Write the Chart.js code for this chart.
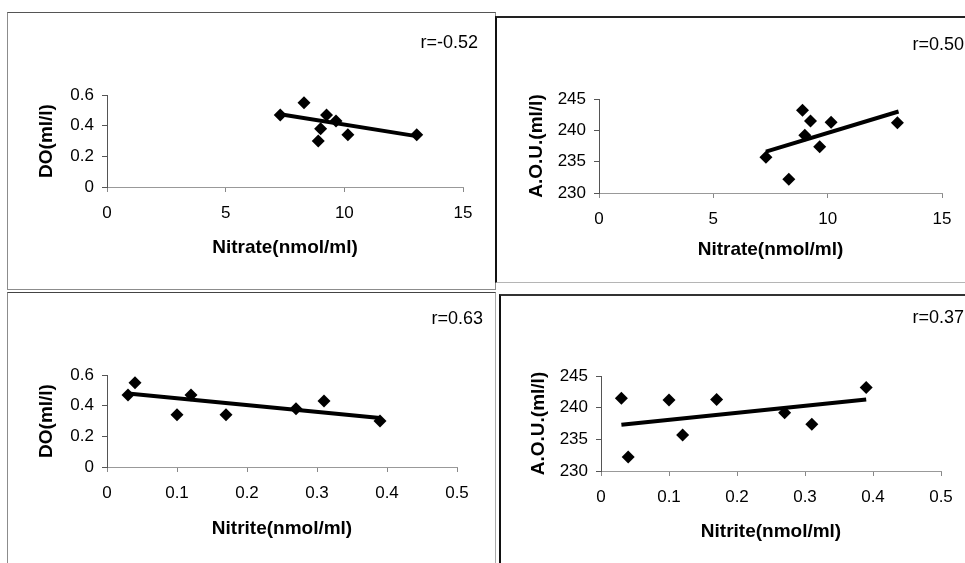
<!DOCTYPE html>
<html>
<head>
<meta charset="utf-8">
<script src="https://cdn.jsdelivr.net/npm/chart.js@4.4.0/dist/chart.umd.min.js"></script>
<style>
  body { margin: 0; background: #fff; }
  #page { position: relative; width: 965px; height: 563px; overflow: hidden; background: #fff; }
  .frame, canvas { position: absolute; }
</style>
</head>
<body>
<div id="page">
  <!-- scanned panel frames -->
  <div class="frame" style="left:7px;top:12px;width:487px;height:276px;border:1px solid #8c8c8c;border-top-color:#555;"></div>
  <div class="frame" style="left:495px;top:16px;width:480px;height:264px;border-left:2px solid #111;border-top:2px solid #222;border-bottom:1px solid #b5b5b5;"></div>
  <div class="frame" style="left:7px;top:292px;width:487px;height:290px;border:1px solid #8c8c8c;border-top-color:#444;border-right-color:#aaa;"></div>
  <div class="frame" style="left:499px;top:294px;width:480px;height:290px;border-left:2px solid #111;border-top:2px solid #333;"></div>

  <canvas id="nitrateDO"></canvas>
  <canvas id="nitrateAOU"></canvas>
  <canvas id="nitriteDO"></canvas>
  <canvas id="nitriteAOU"></canvas>
</div>
<script>
// same 8 stations in every panel
const nitrate = [7.3, 8.3, 8.9, 9.0, 9.25, 9.65, 10.15, 13.05];
const nitrite = [0.12, 0.04, 0.39, 0.27, 0.03, 0.31, 0.17, 0.10];
const dissolvedO2 = [0.47, 0.55, 0.30, 0.38, 0.47, 0.43, 0.34, 0.34];
const aou = [235.7, 232.2, 243.2, 239.2, 241.5, 237.4, 241.3, 241.2];

// trend line ends
const nitrateTrendX = [7.3, 13.1];
const nitriteTrendX = [0.03, 0.39];
const doNitrateTrend = [0.475, 0.33];
const aouNitrateTrend = [236.6, 243.0];
const doNitriteTrend = [0.48, 0.32];
const aouNitriteTrend = [237.3, 241.3];

// tick labels
const nitrateTicks = [0, 5, 10, 15];
const nitriteTicks = [0, 0.1, 0.2, 0.3, 0.4, 0.5];
const doTicks = [0, 0.2, 0.4, 0.6];
const aouTicks = [230, 235, 240, 245];

const rLabels = ['r=-0.52', 'r=0.50', 'r=0.63', 'r=0.37'];

const FONT = "'Liberation Sans', Arial, sans-serif";
Chart.defaults.font.family = FONT;
Chart.defaults.color = '#000';

// r= text in the top right corner of each panel
const cornerNote = {
    id: 'cornerNote',
    afterDraw(chart, args, opts) {
        const ctx = chart.ctx;
        ctx.save();
        ctx.font = '18px ' + FONT;
        ctx.fillStyle = '#000';
        ctx.textAlign = 'right';
        ctx.textBaseline = 'middle';
        ctx.fillText(opts.text, opts.x, opts.y);
        ctx.restore();
    }
};

function pairs(xs, ys) {
    return xs.map((x, i) => ({ x: x, y: ys[i] }));
}

// box = canvas rect on page, plot = wanted chart area on page
function makePanel(id, box, plot, xVals, yVals, trendX, trendY, xTicks, yTicks, xTitle, yTitle, pos, note) {
    const canvas = document.getElementById(id);
    canvas.width = box.w;
    canvas.height = box.h;
    canvas.style.left = box.l + 'px';
    canvas.style.top = box.t + 'px';
    canvas.style.width = box.w + 'px';
    canvas.style.height = box.h + 'px';

    const yWidth = plot.l - box.l;
    const xHeight = box.t + box.h - plot.b;
    const titleHalf = 19 * 1.2 / 2;

    return new Chart(canvas, {
        type: 'scatter',
        data: {
            datasets: [{
                data: pairs(xVals, yVals),
                pointStyle: 'rectRot',
                pointRadius: 6.5,
                backgroundColor: '#000',
                borderColor: '#000',
                borderWidth: 0
            }, {
                data: pairs(trendX, trendY),
                showLine: true,
                pointRadius: 0,
                borderColor: '#000',
                borderWidth: 4
            }]
        },
        options: {
            responsive: false,
            animation: false,
            clip: false,
            layout: {
                padding: { left: 0, right: box.l + box.w - plot.r, top: plot.t - box.t, bottom: 0 }
            },
            plugins: {
                legend: { display: false },
                tooltip: { enabled: false },
                cornerNote: { text: note, x: pos.noteX - box.l, y: pos.noteY - box.t }
            },
            scales: {
                x: {
                    type: 'linear',
                    min: xTicks[0],
                    max: xTicks[xTicks.length - 1],
                    afterBuildTicks: s => { s.ticks = xTicks.map(v => ({ value: v })); },
                    afterFit: s => { s.height = xHeight; },
                    ticks: { font: { size: 17 }, padding: 11, maxRotation: 0, callback: v => String(v) },
                    grid: { drawOnChartArea: false, tickLength: 5, color: '#888' },
                    border: { color: '#999', width: 1 },
                    title: {
                        display: true, text: xTitle,
                        font: { size: 19, weight: 'bold' },
                        padding: { top: 0, bottom: box.t + box.h - pos.xTitleY - titleHalf }
                    }
                },
                y: {
                    type: 'linear',
                    min: yTicks[0],
                    max: yTicks[yTicks.length - 1],
                    afterBuildTicks: s => { s.ticks = yTicks.map(v => ({ value: v })); },
                    afterFit: s => { s.width = yWidth; },
                    ticks: { font: { size: 17 }, padding: 8, callback: v => String(v) },
                    grid: { drawOnChartArea: false, tickLength: 5, color: '#555' },
                    border: { color: '#555', width: 1 },
                    title: {
                        display: true, text: yTitle,
                        font: { size: 19, weight: 'bold' },
                        padding: { top: pos.yTitleX - box.l - titleHalf, bottom: 0 }
                    }
                }
            }
        },
        plugins: [cornerNote]
    });
}

makePanel('nitrateDO',
    { l: 8, t: 13, w: 482, h: 272 }, { l: 107, t: 95, r: 463, b: 187 },
    nitrate, dissolvedO2, nitrateTrendX, doNitrateTrend, nitrateTicks, doTicks,
    'Nitrate(nmol/ml)', 'DO(ml/l)',
    { yTitleX: 47, xTitleY: 248, noteX: 478, noteY: 43 }, rLabels[0]);

makePanel('nitrateAOU',
    { l: 497, t: 18, w: 468, h: 262 }, { l: 599, t: 99, r: 942, b: 193 },
    nitrate, aou, nitrateTrendX, aouNitrateTrend, nitrateTicks, aouTicks,
    'Nitrate(nmol/ml)', 'A.O.U.(ml/l)',
    { yTitleX: 537, xTitleY: 250, noteX: 964, noteY: 45 }, rLabels[1]);

makePanel('nitriteDO',
    { l: 8, t: 293, w: 482, h: 270 }, { l: 107, t: 375, r: 457, b: 467 },
    nitrite, dissolvedO2, nitriteTrendX, doNitriteTrend, nitriteTicks, doTicks,
    'Nitrite(nmol/ml)', 'DO(ml/l)',
    { yTitleX: 47, xTitleY: 529, noteX: 483, noteY: 319 }, rLabels[2]);

makePanel('nitriteAOU',
    { l: 501, t: 296, w: 464, h: 267 }, { l: 601, t: 376, r: 941, b: 471 },
    nitrite, aou, nitriteTrendX, aouNitriteTrend, nitriteTicks, aouTicks,
    'Nitrite(nmol/ml)', 'A.O.U.(ml/l)',
    { yTitleX: 539, xTitleY: 532, noteX: 964, noteY: 318 }, rLabels[3]);
</script>
</body>
</html>
